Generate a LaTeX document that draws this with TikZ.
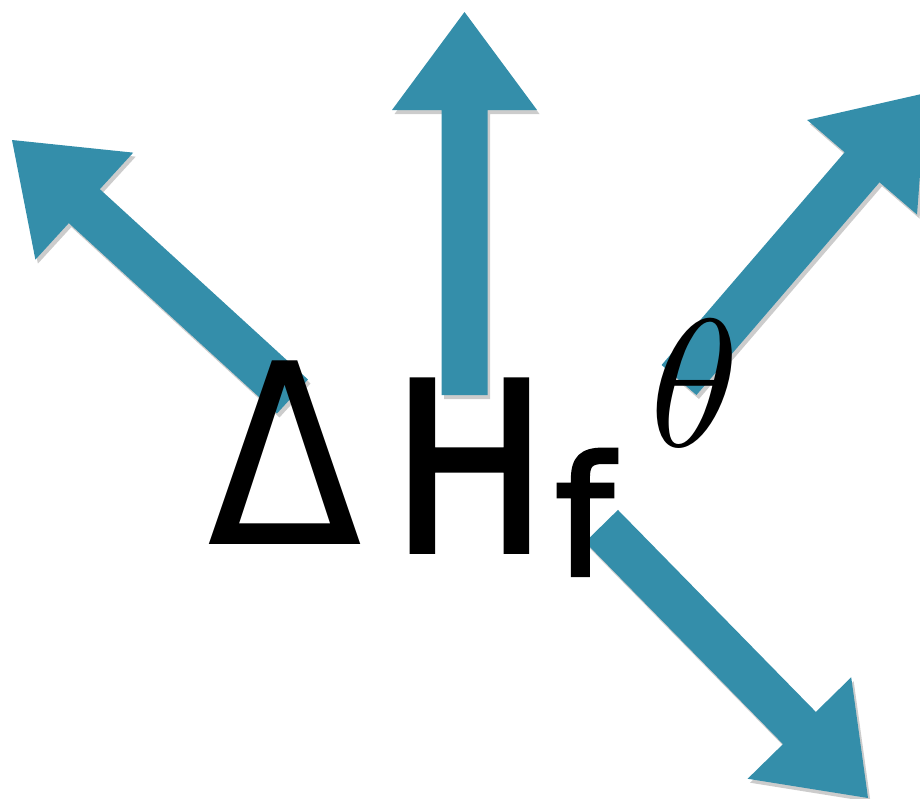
\documentclass[tikz,border=0pt]{standalone}
\usepackage{fontspec}
\newfontfamily\glyphsans[FakeBold=2.5]{DejaVu Sans}
\newfontfamily\glyphlight{DejaVu Sans}
\usetikzlibrary{calc,shadows}
\definecolor{arrowteal}{RGB}{52,142,170}
\tikzset{
  bigarrow/.style={fill=arrowteal, draw=none,
    drop shadow={shadow xshift=2.5pt, shadow yshift=-4pt, fill=black, opacity=0.2}},
  glyph/.style={inner sep=0pt, outer sep=0pt, anchor=base west}
}
% #1 name prefix, #2 tail centre, #3 tip
\newcommand{\fatarrow}[3]{%
  \coordinate (#1t) at #2;
  \coordinate (#1p) at #3;
  \coordinate (#1b) at ($(#1p)!98pt!(#1t)$);
  \fill[bigarrow]
    ($(#1t)!23pt!90:(#1p)$) --
    ($(#1b)!23pt!90:(#1p)$) --
    ($(#1b)!72.5pt!90:(#1p)$) --
    (#1p) --
    ($(#1b)!72.5pt!-90:(#1p)$) --
    ($(#1b)!23pt!-90:(#1p)$) --
    ($(#1t)!23pt!-90:(#1p)$) -- cycle;
}
\begin{document}
\begin{tikzpicture}[x=1pt,y=-1pt]
  \useasboundingbox (0,0) rectangle (920,798);
  \fatarrow{ul}{(292.5,396.5)}{(12,140)}
  \fatarrow{up}{(464.5,395)}{(464.5,12)}
  \fatarrow{ur}{(679,380)}{(926,93)}
  \fatarrow{dr}{(601.5,526)}{(868,798)}
  \node[glyph, xscale=0.9] (delta) at (207,544) {\glyphlight\fontsize{252}{252}\selectfont Δ};
  \node[glyph, xscale=0.88] (hh) at (392,551) {\glyphsans\fontsize{234}{234}\selectfont H};
  \node[glyph] (ff) at (555,575) {\glyphsans\fontsize{165}{165}\selectfont f};
  \node[glyph, scale=18.2] (th) at (649,446) {$\theta$};
\end{tikzpicture}
\end{document}
